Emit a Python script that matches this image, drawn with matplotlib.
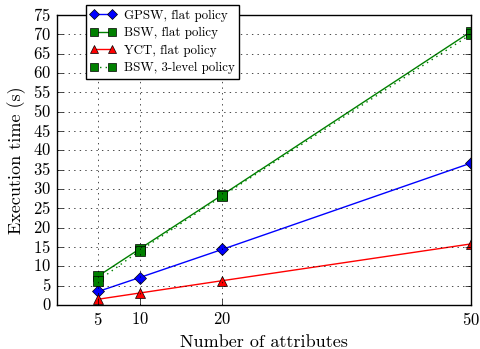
import matplotlib
matplotlib.use("Agg")
import matplotlib.pyplot as plt

plt.style.use('classic')
plt.rcParams['font.family'] = 'serif'
plt.rcParams['font.serif'] = ['cmr10']
plt.rcParams['mathtext.fontset'] = 'cm'
plt.rcParams['axes.unicode_minus'] = False
plt.rcParams['axes.formatter.use_mathtext'] = True

attrs = [5, 10, 20, 50]
gpsw_flat = [3.5, 7.1, 14.4, 36.7]
bsw_flat = [7.5, 14.5, 28.5, 70.7]
yct_flat = [1.5, 3.1, 6.3, 15.8]
bsw_3level = [6.3, 14.0, 28.2, 70.0]

fig = plt.figure(figsize=(4.81, 3.49), dpi=100)
ax = fig.add_axes([0.118, 0.126, 0.861, 0.831])

ax.plot(attrs, gpsw_flat, 'b-', marker='D', markersize=6, label='GPSW, flat policy')
ax.plot(attrs, bsw_flat, 'g-', marker='s', markersize=7, label='BSW, flat policy')
ax.plot(attrs, yct_flat, 'r-', marker='^', markersize=7, label='YCT, flat policy')
ax.plot(attrs, bsw_3level, 'g:', marker='s', markersize=7, label='BSW, 3-level policy')

ax.set_xlim(0, 50)
ax.set_ylim(0, 75)
ax.set_xticks(attrs)
ax.set_yticks(range(0, 80, 5))
ax.grid(True, color='black', linestyle=':')
ax.tick_params(labelsize=12)
ax.set_xlabel('Number of attributes', fontsize=13)
ax.set_ylabel('Execution time (s)', fontsize=13)
leg = ax.legend(loc='upper left', fontsize=9.3, numpoints=2, markerscale=0.8,
                bbox_to_anchor=(86 / 481, 1 - 5 / 349), bbox_transform=fig.transFigure,
                borderaxespad=0, labelspacing=0.42, handlelength=2.0, handletextpad=0.6,
                borderpad=0.35)
leg.get_frame().set_linewidth(1.0)

fig.savefig('out.png', dpi=100)
